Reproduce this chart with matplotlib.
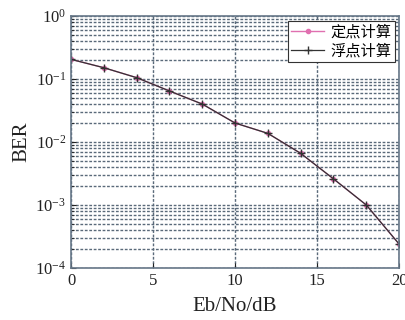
import numpy as np
import matplotlib
matplotlib.use('Agg')
import matplotlib.pyplot as plt
from matplotlib.ticker import LogLocator, FixedLocator

# datos
ebno = [0, 2, 4, 6, 8, 10, 12, 14, 16, 18, 20]
ber_fijo = [0.205, 0.151, 0.105, 0.0645, 0.040, 0.020, 0.0137, 0.0066, 0.0026, 0.00100, 0.00024]
ber_flot = [0.205, 0.151, 0.105, 0.0645, 0.040, 0.020, 0.0137, 0.0066, 0.0026, 0.00100, 0.00024]
nombres = ['定点计算', '浮点计算']

plt.rcParams['font.family'] = ['Liberation Serif', 'Noto Sans CJK SC']
plt.rcParams['mathtext.fontset'] = 'stix'

fig = plt.figure(figsize=(4.06, 3.2), dpi=100)
ax = fig.add_axes([0.175, 0.1625, 0.808, 0.7875])

ax.semilogy(ebno, ber_fijo, color='#e070b0', marker='o', markersize=3, lw=1, label=nombres[0])
ax.semilogy(ebno, ber_flot, color='#333333', marker='+', markersize=6, mew=1, lw=0.9, label=nombres[1])

ax.set_xlim(0, 20)
ax.set_ylim(1e-4, 1)
ax.xaxis.set_major_locator(FixedLocator([0, 5, 10, 15, 20]))
ax.yaxis.set_major_locator(LogLocator(base=10, numticks=10))
ax.yaxis.set_minor_locator(LogLocator(base=10, subs=np.arange(2, 10), numticks=20))
estilo = (0, (2, 1.2))
ax.grid(True, which='major', ls=estilo, color='#5a6a7a', lw=1.0)
ax.grid(True, which='minor', axis='y', ls=estilo, color='#5a6a7a', lw=1.0)
ax.tick_params(which='both', direction='in', labelsize=12, colors='#222222')
ax.tick_params(which='minor', length=2)
for s in ax.spines.values():
    s.set_color('#667788')
    s.set_linewidth(1.2)

ax.set_xlabel('Eb/No/dB', fontsize=15, labelpad=6, color='#222222')
ax.set_ylabel('BER', fontsize=15, labelpad=3, color='#222222')

leg = ax.legend(loc='upper right', prop={'family': ['Noto Sans CJK SC'], 'size': 11},
                handlelength=2.2, borderpad=0.2, labelspacing=0.1, handletextpad=0.4,
                fancybox=False, framealpha=1, borderaxespad=0.3)
leg.get_frame().set_edgecolor('#333333')
leg.get_frame().set_linewidth(0.8)

plt.savefig('out.png', dpi=100)
